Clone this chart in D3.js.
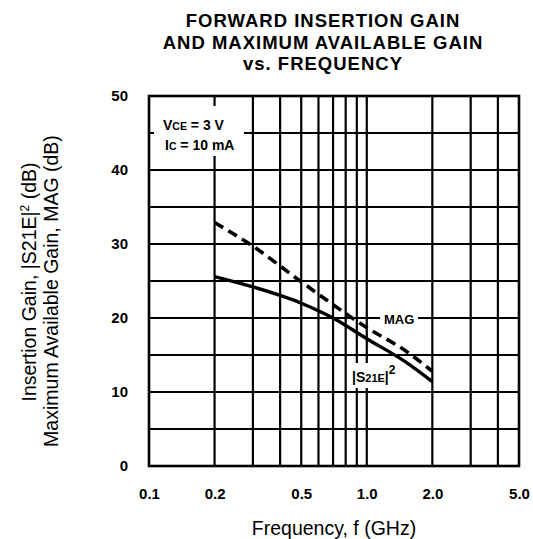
<!DOCTYPE html>
<html>
<head>
<meta charset="utf-8">
<script src="https://cdn.jsdelivr.net/npm/d3@7"></script>
<style>
  body { margin: 0; background: #fff; }
  text { font-family: "Liberation Sans", Arial, sans-serif; fill: #000; }
</style>
</head>
<body>
<div id="chart"></div>
<script>
// Data
let s21Freq = [0.2, 0.3, 0.5, 0.7, 1.0, 1.5, 2.0];
let s21Gain = [25.6, 24.2, 22.0, 20.0, 17.2, 14.1, 11.4];
let magFreq = [0.2, 0.3, 0.5, 1.0, 1.5, 2.0];
let magGain = [32.9, 29.7, 24.9, 18.7, 15.6, 12.8];

let freqTicks = [0.1, 0.2, 0.5, 1.0, 2.0, 5.0];
let freqTickLabels = ["0.1", "0.2", "0.5", "1.0", "2.0", "5.0"];
let freqGrid = [0.2, 0.3, 0.4, 0.5, 0.6, 0.7, 0.8, 0.9, 1.0, 2.0, 3.0, 4.0];
let gainTicks = [0, 10, 20, 30, 40, 50];
let gainGrid = [5, 10, 15, 20, 25, 30, 35, 40, 45];

// svg attributes
let svgWidth = 533;
let svgHeight = 539;
let plotL = 149, plotR = 519, plotT = 96, plotB = 466;

let svg = d3.select("#chart")
  .append("svg")
  .attr("width", svgWidth)
  .attr("height", svgHeight);

let xScale = d3.scaleLog().domain([0.1, 5]).range([plotL, plotR]);
let yScale = d3.scaleLinear().domain([0, 50]).range([plotB, plotT]);

// grid
let grid = svg.append("g").attr("stroke", "#000").attr("stroke-width", 2.2);
grid.selectAll(".vg").data(freqGrid).enter().append("line")
  .attr("x1", d => xScale(d)).attr("x2", d => xScale(d))
  .attr("y1", plotT).attr("y2", plotB);
grid.selectAll(".hg").data(gainGrid).enter().append("line")
  .attr("x1", plotL).attr("x2", plotR)
  .attr("y1", d => yScale(d)).attr("y2", d => yScale(d));

// white boxes under the in-plot labels
svg.append("rect").attr("x", 154).attr("y", 106).attr("width", 90).attr("height", 50).attr("fill", "#fff");
svg.append("rect").attr("x", 380).attr("y", 311).attr("width", 38).attr("height", 15).attr("fill", "#fff");
svg.append("rect").attr("x", 351).attr("y", 363).attr("width", 52).attr("height", 25).attr("fill", "#fff");

// curves
let line = d3.line()
  .x(d => xScale(d[0]))
  .y(d => yScale(d[1]))
  .curve(d3.curveMonotoneX);

svg.append("path")
  .datum(magFreq.map((f, i) => [f, magGain[i]]))
  .attr("d", line)
  .attr("fill", "none").attr("stroke", "#000")
  .attr("stroke-width", 3.6).attr("stroke-dasharray", "10,6");

svg.append("path")
  .datum(s21Freq.map((f, i) => [f, s21Gain[i]]))
  .attr("d", line)
  .attr("fill", "none").attr("stroke", "#000")
  .attr("stroke-width", 3.4);

// border
svg.append("rect")
  .attr("x", plotL).attr("y", plotT)
  .attr("width", plotR - plotL).attr("height", plotB - plotT)
  .attr("fill", "none").attr("stroke", "#000").attr("stroke-width", 2.6);

// axes (labels only)
let xAxis = svg.append("g")
  .attr("transform", `translate(0,${plotB})`)
  .call(d3.axisBottom(xScale).tickValues(freqTicks)
    .tickFormat((d, i) => freqTickLabels[i]).tickSize(0).tickPadding(22));
let yAxis = svg.append("g")
  .attr("transform", `translate(${plotL},0)`)
  .call(d3.axisLeft(yScale).tickValues(gainTicks).tickSize(0).tickPadding(21));
[xAxis, yAxis].forEach(a => {
  a.select(".domain").remove();
  a.selectAll("text")
    .style("font-family", "'Liberation Sans', Arial, sans-serif")
    .style("font-size", "15px").style("font-weight", "bold").attr("fill", "#000");
});

// title
let title = ["FORWARD INSERTION GAIN", "AND MAXIMUM AVAILABLE GAIN", "vs. FREQUENCY"];
svg.selectAll(".title").data(title).enter().append("text")
  .attr("x", 323).attr("y", (d, i) => 27 + i * 21.5)
  .attr("text-anchor", "middle")
  .style("font-size", "18.5px").style("font-weight", "bold").style("letter-spacing", "1px")
  .text(d => d);

// axis titles
svg.append("text").attr("x", 334).attr("y", 535).attr("text-anchor", "middle")
  .style("font-size", "19.5px").text("Frequency, f (GHz)");

let yt1 = svg.append("text").attr("transform", "translate(36,282) rotate(-90)")
  .attr("text-anchor", "middle").style("font-size", "19.5px");
yt1.append("tspan").text("Insertion Gain, |S21E|");
yt1.append("tspan").attr("dy", -7).style("font-size", "12px").text("2");
yt1.append("tspan").attr("dy", 7).text(" (dB)");
svg.append("text").attr("transform", "translate(58,291) rotate(-90)")
  .attr("text-anchor", "middle").style("font-size", "19.5px")
  .text("Maximum Available Gain, MAG (dB)");

// conditions
let c1 = svg.append("text").attr("x", 163).attr("y", 130).style("font-size", "14px").style("font-weight", "bold");
c1.append("tspan").text("V");
c1.append("tspan").style("font-size", "10.5px").text("CE");
c1.append("tspan").text(" = 3 V");
let c2 = svg.append("text").attr("x", 165).attr("y", 150).style("font-size", "14px").style("font-weight", "bold");
c2.append("tspan").text("I");
c2.append("tspan").style("font-size", "10.5px").text("C");
c2.append("tspan").text(" = 10 mA");

// curve labels
svg.append("text").attr("x", 384).attr("y", 324)
  .style("font-size", "13px").style("font-weight", "bold").text("MAG");
let s = svg.append("text").attr("x", 352).attr("y", 382)
  .style("font-size", "14px").style("font-weight", "bold");
s.append("tspan").text("|S");
s.append("tspan").style("font-size", "11px").text("21E");
s.append("tspan").text("|");
s.append("tspan").attr("dy", -8).style("font-size", "12px").text("2");
</script>
</body>
</html>
